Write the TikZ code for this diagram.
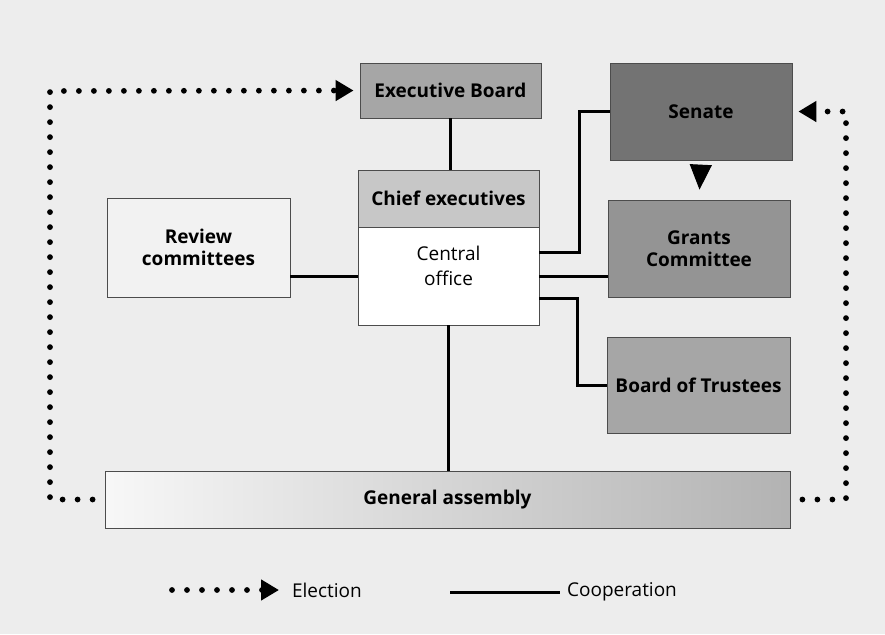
\documentclass[tikz,border=0pt]{standalone}
\usepackage{fontspec}
\setmainfont{Open Sans}
\usetikzlibrary{arrows.meta, positioning}

\begin{document}
\begin{tikzpicture}[x=0.5pt, y=-0.5pt,
    unit/.style={rectangle, draw=black!70, thin, text centered, align=center,
                 font=\fontsize{9.5}{11}\selectfont\bfseries, inner sep=2pt},
    coop/.style={line width=1.5pt, black},
    election/.style={line width=2.9pt, line cap=round, dash pattern=on 0pt off 7.5pt,
                     -{Triangle[length=9pt, width=10pt]}, shorten >=3pt},
    legend/.style={font=\fontsize{9.5}{11}\selectfont, anchor=west}]

    % background and margins
    \fill[black!7] (0,0) rectangle (885,634);

    % Nodes
    \node[unit, fill=black!35, minimum width=90.5pt, minimum height=27.5pt] (board) at (450.5,90.5) {Executive Board};
    \node[unit, fill=black!22, minimum width=90.5pt, minimum height=28.5pt] (chief) at (448.5,198.5) {Chief executives};
    \node[unit, fill=white, font=\fontsize{9.5}{12.5}\selectfont, text depth=10pt, minimum width=90.5pt, minimum height=49pt] (central) at (448.5,276) {Central\\office};
    \node[unit, fill=black!5, minimum width=91.5pt, minimum height=49.5pt] (review) at (198.5,247.5) {Review\\committees};
    \node[unit, fill=black!55, minimum width=91pt, minimum height=48.5pt] (senate) at (701,111.5) {Senate};
    \node[unit, fill=black!42, minimum width=91pt, minimum height=48.5pt] (grants) at (699,248.5) {Grants\\Committee};
    \node[unit, fill=black!35, minimum width=91.5pt, minimum height=48pt] (trustees) at (698.5,385) {Board of Trustees};
    \node[unit, left color=black!3, right color=black!30, minimum width=342.5pt, minimum height=28.5pt] (assembly) at (447.5,499.5) {General assembly};

    \coordinate (eleft) at (50,91);
    \coordinate (eright) at (846,111.5);

    % Cooperation
    \draw[coop] (board.south) -- (board.south |- chief.north);
    \draw[coop] (central.west) -- (central.west -| review.east);
    \draw[coop] (central.south) -- (central.south |- assembly.north);
    \draw[coop] ([yshift=12pt]central.east) -| ([xshift=-15pt]senate.west) -- (senate.west);
    \draw[coop] (central.east) -- (central.east -| grants.west);
    \draw[coop] ([yshift=-11pt]central.east) -| ([xshift=-14.5pt]trustees.west) -- (trustees.west);

    % Election
    \draw[election] ([xshift=-6pt]assembly.west) -| (eleft) -- (board.west);
    \draw[election] ([xshift=6pt]assembly.east) -| (eright) -- (senate.east);
    \draw[-{Triangle[length=12.5pt, width=11pt]}, line width=0.5pt, shorten <=2.5pt, shorten >=5pt] (senate.south) -- (grants.north);

    % Legend
    \node[legend] (elec) at (285,590) {Election};
    \node[legend] (coopl) at (560,592) {Cooperation};
    \coordinate (e0) at (172,590);
    \coordinate (c0) at (450,592);
    \draw[election] (e0) -- (elec.west);
    \draw[coop] (c0) -- (coopl.west);

\end{tikzpicture}
\end{document}
